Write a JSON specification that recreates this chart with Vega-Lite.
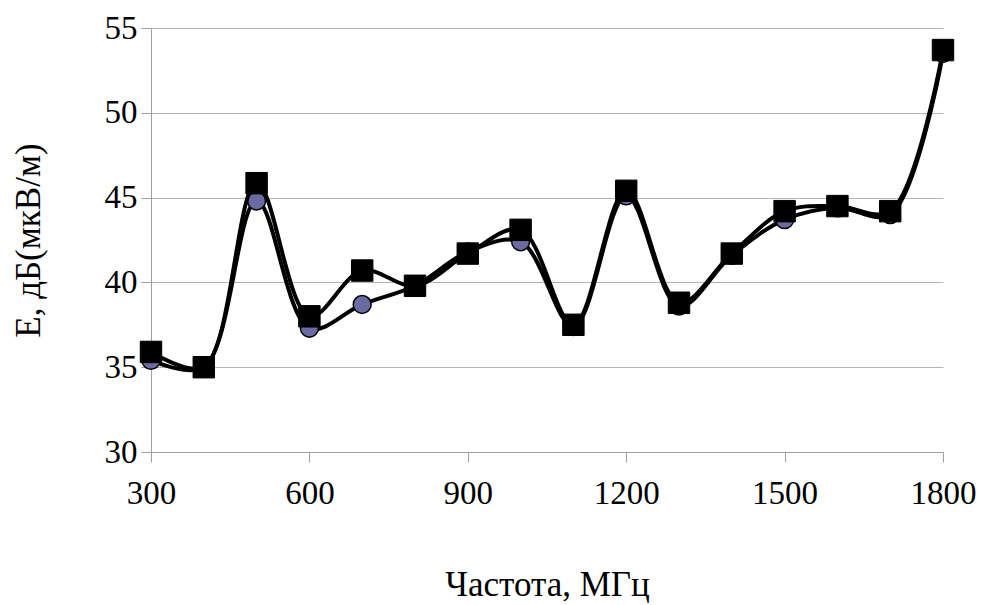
{
  "$schema": "https://vega.github.io/schema/vega-lite/v6.json",
  "autosize": "none",
  "width": 792,
  "height": 424,
  "padding": {"left": 151, "top": 28, "right": 40, "bottom": 153},
  "background": "white",
  "config": {
    "view": {"stroke": null},
    "font": "Liberation Serif",
    "axis": {
      "labelFont": "Liberation Serif",
      "titleFont": "Liberation Serif",
      "labelFontSize": 33,
      "titleFontSize": 35,
      "titleFontWeight": "normal",
      "labelColor": "black",
      "titleColor": "black",
      "domainColor": "#a0a0a0",
      "tickColor": "#a0a0a0",
      "gridColor": "#b4b4b4",
      "tickSize": 10
    }
  },
  "data": {
    "values": [
      {"freq": 300, "E": 35.4, "series": "a"},
      {"freq": 400, "E": 35.0, "series": "a"},
      {"freq": 500, "E": 44.8, "series": "a"},
      {"freq": 600, "E": 37.3, "series": "a"},
      {"freq": 700, "E": 38.7, "series": "a"},
      {"freq": 800, "E": 39.8, "series": "a"},
      {"freq": 900, "E": 41.8, "series": "a"},
      {"freq": 1000, "E": 42.4, "series": "a"},
      {"freq": 1100, "E": 37.4, "series": "a"},
      {"freq": 1200, "E": 45.1, "series": "a"},
      {"freq": 1300, "E": 38.6, "series": "a"},
      {"freq": 1400, "E": 41.6, "series": "a"},
      {"freq": 1500, "E": 43.7, "series": "a"},
      {"freq": 1600, "E": 44.4, "series": "a"},
      {"freq": 1700, "E": 44.0, "series": "a"},
      {"freq": 1800, "E": 53.5, "series": "a"},
      {"freq": 300, "E": 35.9, "series": "b"},
      {"freq": 400, "E": 35.0, "series": "b"},
      {"freq": 500, "E": 45.85, "series": "b"},
      {"freq": 600, "E": 38.0, "series": "b"},
      {"freq": 700, "E": 40.7, "series": "b"},
      {"freq": 800, "E": 39.8, "series": "b"},
      {"freq": 900, "E": 41.7, "series": "b"},
      {"freq": 1000, "E": 43.1, "series": "b"},
      {"freq": 1100, "E": 37.5, "series": "b"},
      {"freq": 1200, "E": 45.4, "series": "b"},
      {"freq": 1300, "E": 38.8, "series": "b"},
      {"freq": 1400, "E": 41.7, "series": "b"},
      {"freq": 1500, "E": 44.2, "series": "b"},
      {"freq": 1600, "E": 44.5, "series": "b"},
      {"freq": 1700, "E": 44.2, "series": "b"},
      {"freq": 1800, "E": 53.7, "series": "b"}
    ]
  },
  "encoding": {
    "x": {
      "field": "freq", "type": "quantitative",
      "scale": {"domain": [300, 1800], "nice": false, "zero": false},
      "axis": {"values": [300, 600, 900, 1200, 1500, 1800], "format": "d", "grid": false, "title": "Частота, МГц", "labelPadding": 15, "titlePadding": 57, "labelFlush": false}
    },
    "y": {
      "field": "E", "type": "quantitative",
      "scale": {"domain": [30, 55], "nice": false, "zero": false},
      "axis": {"values": [30, 35, 40, 45, 50, 55], "format": "d", "grid": true, "title": "E, дБ(мкВ/м)", "labelPadding": 4, "titlePadding": 58}
    }
  },
  "layer": [
    {
      "transform": [{"filter": "datum.series === 'a'"}],
      "mark": {"type": "line", "interpolate": "catmull-rom", "color": "black", "strokeWidth": 4}
    },
    {
      "transform": [{"filter": "datum.series === 'a'"}],
      "mark": {"type": "point", "shape": "circle", "filled": true, "fill": "#6b6ba3", "stroke": "black", "strokeWidth": 1.5, "size": 320, "opacity": 1}
    },
    {
      "transform": [{"filter": "datum.series === 'b'"}],
      "mark": {"type": "line", "interpolate": "catmull-rom", "color": "black", "strokeWidth": 4}
    },
    {
      "transform": [{"filter": "datum.series === 'b'"}],
      "mark": {"type": "point", "shape": "square", "filled": true, "fill": "black", "stroke": "black", "strokeWidth": 1, "size": 460, "opacity": 1}
    }
  ]
}
